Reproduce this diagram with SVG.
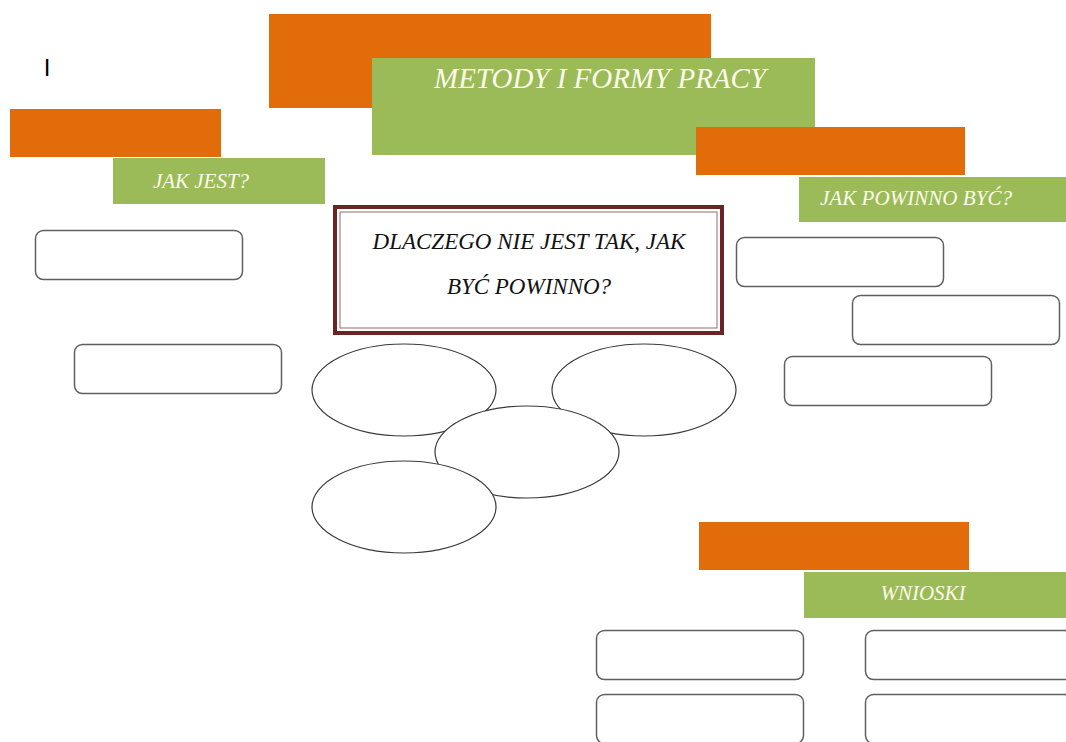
<svg xmlns="http://www.w3.org/2000/svg" width="1066" height="742" viewBox="0 0 1066 742">
<style>
.or{fill:#E36C0A}
.gr{fill:#9BBB59}
.lbl{font-family:"Liberation Serif","DejaVu Serif",serif;font-style:italic;fill:#FDFBEA;text-anchor:middle}
.box{fill:#fff;stroke:#5f5f5f;stroke-width:1.5}
.ell{fill:#fff;stroke:#3a3a3a;stroke-width:1.2}
.q{font-family:"Liberation Serif","DejaVu Serif",serif;font-style:italic;fill:#111;text-anchor:middle;font-size:23px}
</style>
<rect width="1066" height="742" fill="#fff"/>
<text x="47" y="76" font-family="Liberation Sans, sans-serif" font-size="24" fill="#000" text-anchor="middle">I</text>
<g id="title">
<rect class="or" x="269" y="14" width="442" height="94"/>
<rect class="gr" x="372" y="58" width="443" height="97"/>
<text class="lbl" x="600" y="88" font-size="29" textLength="332" lengthAdjust="spacingAndGlyphs">METODY I FORMY PRACY</text>
</g>
<g id="jak-jest">
<rect class="or" x="10" y="109" width="211" height="48"/>
<rect class="gr" x="113" y="158" width="212" height="46"/>
<text class="lbl" x="201" y="188" font-size="21">JAK JEST?</text>
</g>
<g id="jak-powinno">
<rect class="or" x="696" y="127" width="269" height="48"/>
<rect class="gr" x="799" y="177" width="267" height="45"/>
<text class="lbl" x="916" y="205" font-size="21" textLength="192" lengthAdjust="spacingAndGlyphs">JAK POWINNO BYĆ?</text>
</g>
<g id="wnioski">
<rect class="or" x="699" y="522" width="270" height="48"/>
<rect class="gr" x="804" y="572" width="262" height="46"/>
<text class="lbl" x="923" y="600" font-size="21">WNIOSKI</text>
</g>
<g id="question">
<rect x="335" y="207" width="387" height="126" fill="#fff" stroke="#6B2424" stroke-width="4"/>
<rect x="340" y="212" width="377" height="116" fill="none" stroke="#9c6a6a" stroke-width="1"/>
<text class="q" x="529" y="249">DLACZEGO NIE JEST TAK, JAK</text>
<text class="q" x="529" y="294">BYĆ POWINNO?</text>
</g>
<g id="left-boxes">
<rect class="box" x="35.5" y="230.5" width="207" height="49" rx="8"/>
<rect class="box" x="74.5" y="344.5" width="207" height="49" rx="8"/>
</g>
<g id="right-boxes">
<rect class="box" x="736.5" y="237.5" width="207" height="49" rx="8"/>
<rect class="box" x="852.5" y="295.5" width="207" height="49" rx="8"/>
<rect class="box" x="784.5" y="356.5" width="207" height="49" rx="8"/>
</g>
<g id="ellipses">
<ellipse class="ell" cx="404" cy="390" rx="92" ry="46"/>
<ellipse class="ell" cx="644" cy="390" rx="92" ry="46"/>
<ellipse class="ell" cx="527" cy="452" rx="92" ry="46"/>
<ellipse class="ell" cx="404" cy="507" rx="92" ry="46"/>
</g>
<g id="bottom-boxes">
<rect class="box" x="596.5" y="630.5" width="207" height="49" rx="8"/>
<rect class="box" x="865.5" y="630.5" width="207" height="49" rx="8"/>
<rect class="box" x="596.5" y="694.5" width="207" height="49" rx="8"/>
<rect class="box" x="865.5" y="694.5" width="207" height="49" rx="8"/>
</g>
<g id="connectors"></g>
</svg>
